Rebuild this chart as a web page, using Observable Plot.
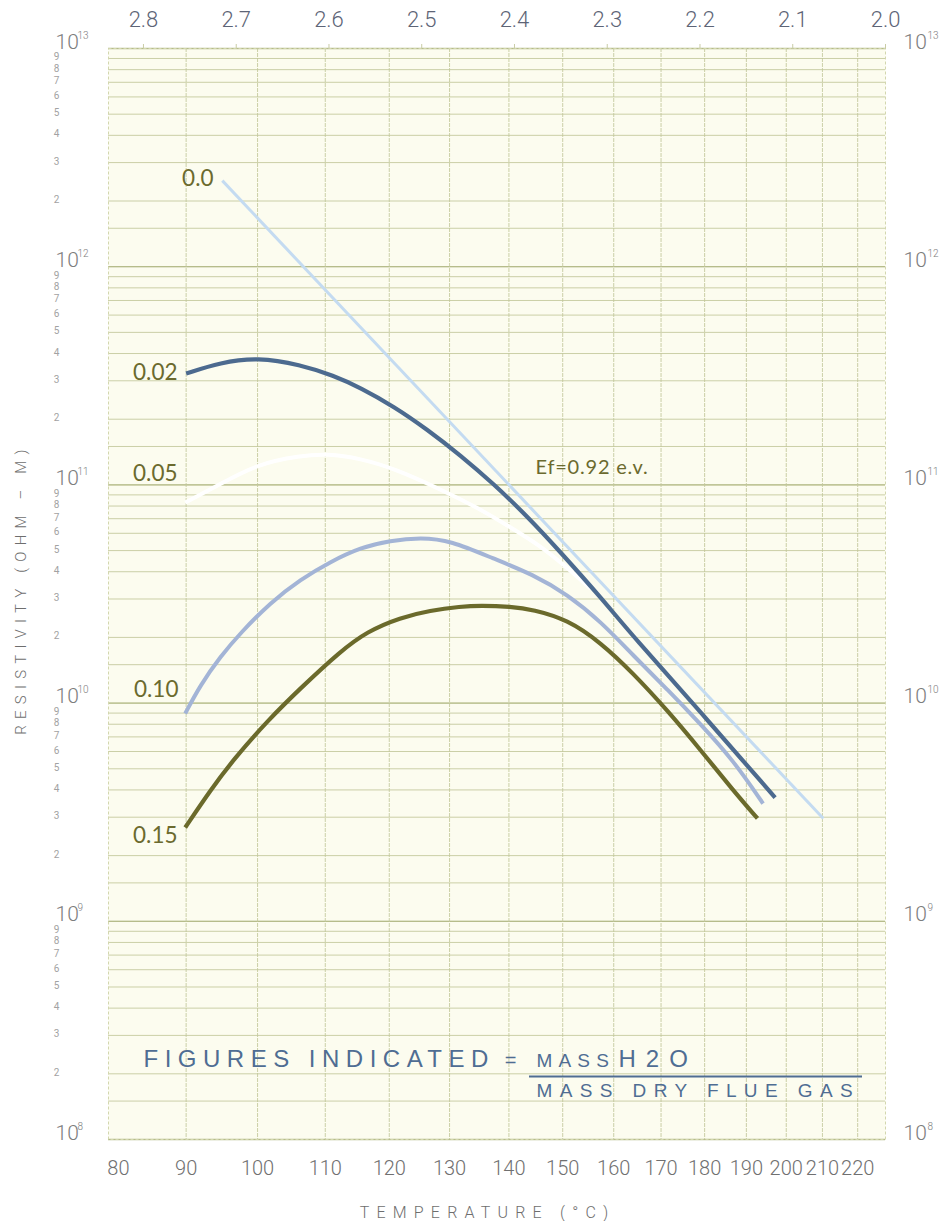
<!DOCTYPE html>
<html>
<head>
<meta charset="utf-8">
<script src="https://cdn.jsdelivr.net/npm/d3@7"></script>
<script src="https://cdn.jsdelivr.net/npm/@observablehq/plot@0.6"></script>
<style>
html, body { margin: 0; padding: 0; background: #ffffff; }
#chart svg { display: block; }
</style>
</head>
<body>
<div id="chart"></div>
<script>
// ---------- data (x = 1000/T in K⁻¹ as on the top axis, y = resistivity in ohm-m) ----------
const topTicks = [2.8, 2.7, 2.6, 2.5, 2.4, 2.3, 2.2, 2.1, 2.0];
const tempLabels = [80, 90, 100, 110, 120, 130, 140, 150, 160, 170, 180, 190, 200, 210, 220];
const tempU = [2.827, 2.754, 2.677, 2.604, 2.535, 2.470, 2.406, 2.348, 2.293, 2.242, 2.195, 2.150, 2.107, 2.068, 2.030];
const decadeExps = [8, 9, 10, 11, 12, 13];
const gridMantissas = [1, 1.5, 2, 3, 4, 5, 6, 7, 8, 9];
const labelMantissas = [2, 3, 4, 5, 6, 7, 8, 9];

const seriesNames = ["0.0", "0.02", "0.05", "0.10", "0.15"];

const u_000 = [2.715, 2.067];
const rho_000 = [2.48e12, 2.96e9];

const u_002 = [2.754, 2.717, 2.677, 2.631, 2.595, 2.566, 2.530, 2.494, 2.458, 2.423, 2.386, 2.350, 2.307, 2.272, 2.199, 2.119];
const rho_002 = [3.24e11, 3.64e11, 3.84e11, 3.56e11, 3.17e11, 2.79e11, 2.288e11, 1.795e11, 1.364e11, 1.015e11, 7.166e10, 4.899e10, 3.05e10, 2.02e10, 9.06e9, 3.69e9];

const u_005 = [2.755, 2.720, 2.677, 2.631, 2.602, 2.566, 2.530, 2.477, 2.440, 2.404, 2.369, 2.336, 2.318];
const rho_005 = [8.30e10, 9.93e10, 1.25e11, 1.36e11, 1.39e11, 1.32e11, 1.19e11, 9.42e10, 7.87e10, 6.38e10, 5.16e10, 3.93e10, 3.35e10];

const u_010 = [2.755, 2.739, 2.717, 2.695, 2.663, 2.631, 2.598, 2.566, 2.534, 2.501, 2.469, 2.423, 2.380, 2.343, 2.307, 2.272, 2.235, 2.199, 2.164, 2.132];
const rho_010 = [8.96e9, 1.204e10, 1.635e10, 2.107e10, 2.891e10, 3.685e10, 4.457e10, 5.166e10, 5.562e10, 5.741e10, 5.562e10, 4.60e10, 3.886e10, 3.146e10, 2.366e10, 1.653e10, 1.154e10, 7.98e9, 5.46e9, 3.465e9];

const u_015 = [2.755, 2.728, 2.703, 2.666, 2.631, 2.588, 2.559, 2.523, 2.491, 2.458, 2.437, 2.404, 2.380, 2.343, 2.307, 2.272, 2.235, 2.199, 2.164, 2.138];
const rho_015 = [2.69e9, 3.977e9, 5.515e9, 8.325e9, 1.167e10, 1.724e10, 2.129e10, 2.468e10, 2.657e10, 2.771e10, 2.801e10, 2.771e10, 2.685e10, 2.416e10, 1.895e10, 1.37e10, 9.25e9, 6.07e9, 3.97e9, 2.96e9];

// curve labels (anchored by their right end)
const curveLabelU = [2.7245, 2.7633, 2.7633, 2.7623, 2.7633];
const curveLabelRho = [2.54e12, 3.27e11, 1.12e11, 1.15e10, 2.47e9];

// annotations
const efText = "Ef=0.92 e.v.";
const efU = 2.3774, efRho = 1.20e11;
const noteLeft = "FIGURES INDICATED", noteLeftU = 2.800;
const noteEq = "=", noteEqU = 2.4043;
const noteNum1 = "MASS", noteNum1U = 2.3763;
const noteNum2 = "H2O", noteNum2U = 2.2879;
const noteDen = "MASS DRY FLUE GAS", noteDenU = 2.3763;
const noteTopRho = 2.14e8, noteDenRho = 1.574e8;
const fractionU = [2.3838, 2.0248];
const fractionRho = 1.944e8;

const yTitle = "RESISTIVITY (OHM – M)";
const xTitle = "TEMPERATURE (°C)";
const xTitleU = 2.4291;

// ---------- build ----------
const U = [u_000, u_002, u_005, u_010, u_015];
const R = [rho_000, rho_002, rho_005, rho_010, rho_015];
const rows = seriesNames.flatMap((name, k) => U[k].map((u, i) => ({name, u, rho: R[k][i]})));
const ser = name => rows.filter(d => d.name === name);

const hGrid = [];
decadeExps.slice(0, -1).forEach(e => gridMantissas.forEach(m => hGrid.push(m * 10 ** e)));
hGrid.push(10 ** 13);
const majors = decadeExps.map(e => 10 ** e);
const minorLabels = [];
decadeExps.slice(0, -1).forEach(e => labelMantissas.forEach(m => minorLabels.push({v: m * 10 ** e, t: String(m)})));

const styleCfg = {
  "0.0":  {stroke: "#c4dbf1", width: 3, curve: "linear"},
  "0.02": {stroke: "#4c6a8f", width: 4.2, curve: "basis"},
  "0.05": {stroke: "#ffffff", width: 4, curve: "basis"},
  "0.10": {stroke: "#a3b4d6", width: 4, curve: "basis"},
  "0.15": {stroke: "#6b6a2b", width: 4.2, curve: "basis"}
};
const drawOrder = ["0.05", "0.0", "0.10", "0.15", "0.02"];

const gridColor = "#c2c79a";
const numFont = "Roboto, 'Liberation Sans', sans-serif";
const labelFont = "Lato, 'Noto Sans', sans-serif";
const noteFont = "'Liberation Sans', Arial, sans-serif";
const blue = "#4f6d93";
const olive = "#6b6a2e";

const noteText = (txt, u, rho, size, anchor) => Plot.text([txt], {
  x: () => u, y: () => rho, text: d => d, textAnchor: anchor, lineAnchor: "bottom",
  fontSize: size, fontFamily: noteFont, fill: blue
});

const chart = Plot.plot({
  width: 947,
  height: 1221,
  marginLeft: 108,
  marginRight: 62,
  marginTop: 48,
  marginBottom: 82,
  style: {background: "#ffffff", fontFamily: numFont},
  x: {domain: [2.8377, 2.0], axis: null},
  y: {type: "log", domain: [1e8, 1e13], axis: null},
  marks: [
    Plot.frame({fill: "#fcfcef", stroke: null}),
    Plot.ruleY(hGrid, {stroke: gridColor, strokeWidth: 1, strokeOpacity: 0.85}),
    Plot.ruleY(majors, {stroke: "#b3b986", strokeWidth: 1.3, strokeOpacity: 0.9}),
    Plot.ruleX(tempU.slice(1), {stroke: gridColor, strokeWidth: 1, strokeOpacity: 0.85, strokeDasharray: "4,1"}),
    Plot.frame({stroke: "#d3d7ae", strokeDasharray: "3,2"}),
    Plot.axisX({anchor: "top", ticks: topTicks, tickSize: 5, tickFormat: () => "", label: null, stroke: "#c9cca6"}),
    // top axis labels
    Plot.text(topTicks, {x: d => d, text: d => d.toFixed(1), frameAnchor: "top", lineAnchor: "middle", dy: -28.5,
      fontSize: 22, fontWeight: 300, fill: "#5d6476"}),
    // bottom axis labels
    Plot.text(tempLabels, {x: (d, i) => tempU[i], text: d => String(d), frameAnchor: "bottom", lineAnchor: "middle", dy: 29.5,
      fontSize: 20, fontWeight: 300, fill: "#707070"}),
    // left decade labels
    Plot.text(majors, {y: d => d, text: () => "10", frameAnchor: "left", dx: -53, textAnchor: "start",
      lineAnchor: "bottom", fontSize: 21, fontWeight: 300, fill: "#7d7d7d"}),
    Plot.text(decadeExps, {y: e => 10 ** e, text: e => String(e), frameAnchor: "left", dx: -31, dy: -10,
      textAnchor: "start", lineAnchor: "bottom", fontSize: 10, fontWeight: 300, fill: "#7d7d7d"}),
    // right decade labels
    Plot.text(majors, {y: d => d, text: () => "10", frameAnchor: "right", dx: 18, textAnchor: "start",
      lineAnchor: "bottom", fontSize: 21, fontWeight: 300, fill: "#7d7d7d"}),
    Plot.text(decadeExps, {y: e => 10 ** e, text: e => String(e), frameAnchor: "right", dx: 42, dy: -10,
      textAnchor: "start", lineAnchor: "bottom", fontSize: 10, fontWeight: 300, fill: "#7d7d7d"}),
    // minor labels
    Plot.text(minorLabels, {y: "v", text: "t", frameAnchor: "left", dx: -52, dy: 2, textAnchor: "middle", lineAnchor: "bottom",
      fontSize: 10, fontWeight: 400, fill: "#a2a2a2"}),
    // curves
    ...drawOrder.map(name => Plot.line(ser(name), {
      x: "u", y: "rho", stroke: styleCfg[name].stroke, strokeWidth: styleCfg[name].width,
      curve: styleCfg[name].curve, strokeLinecap: "butt"
    })),
    // curve labels
    Plot.text(seriesNames, {x: (d, i) => curveLabelU[i], y: (d, i) => curveLabelRho[i], text: d => d,
      textAnchor: "end", fontSize: 22.5, fontFamily: labelFont, fill: olive}),
    Plot.text([efText], {x: () => efU, y: () => efRho, text: d => d, textAnchor: "start",
      fontSize: 20, fontFamily: labelFont, fill: olive}),
    // notes
    noteText(noteLeft, noteLeftU, noteTopRho, 24, "start"),
    noteText(noteEq, noteEqU, noteTopRho, 20, "middle"),
    noteText(noteNum1, noteNum1U, noteTopRho, 19, "start"),
    noteText(noteNum2, noteNum2U, noteTopRho, 24, "start"),
    noteText(noteDen, noteDenU, noteDenRho, 19, "start"),
    Plot.ruleY([fractionRho], {x1: fractionU[0], x2: fractionU[1], stroke: blue, strokeWidth: 2.2}),
    // axis titles
    Plot.text([yTitle], {frameAnchor: "left", dx: -87, dy: -5, rotate: -90, textAnchor: "middle", lineAnchor: "middle",
      text: d => d, fontSize: 15, fontWeight: 300, fill: "#6e6e6e"}),
    Plot.text([xTitle], {x: () => xTitleU, frameAnchor: "bottom", lineAnchor: "middle", dy: 73, text: d => d,
      fontSize: 16, fontWeight: 300, fill: "#6e6e6e"})
  ]
});

// letter spacing for the spaced-out captions
const spacing = {
  [noteLeft]: "6.5px",
  [noteNum1]: "6.2px",
  [noteNum2]: "10px",
  [noteDen]: "7.4px",
  [efText]: "0.8px",
  [yTitle]: "6.2px",
  [xTitle]: "7.2px"
};
d3.select(chart).selectAll("text").each(function() {
  const t = this.textContent;
  if (spacing[t]) this.setAttribute("letter-spacing", spacing[t]);
});

document.getElementById("chart").appendChild(chart);
</script>
</body>
</html>
